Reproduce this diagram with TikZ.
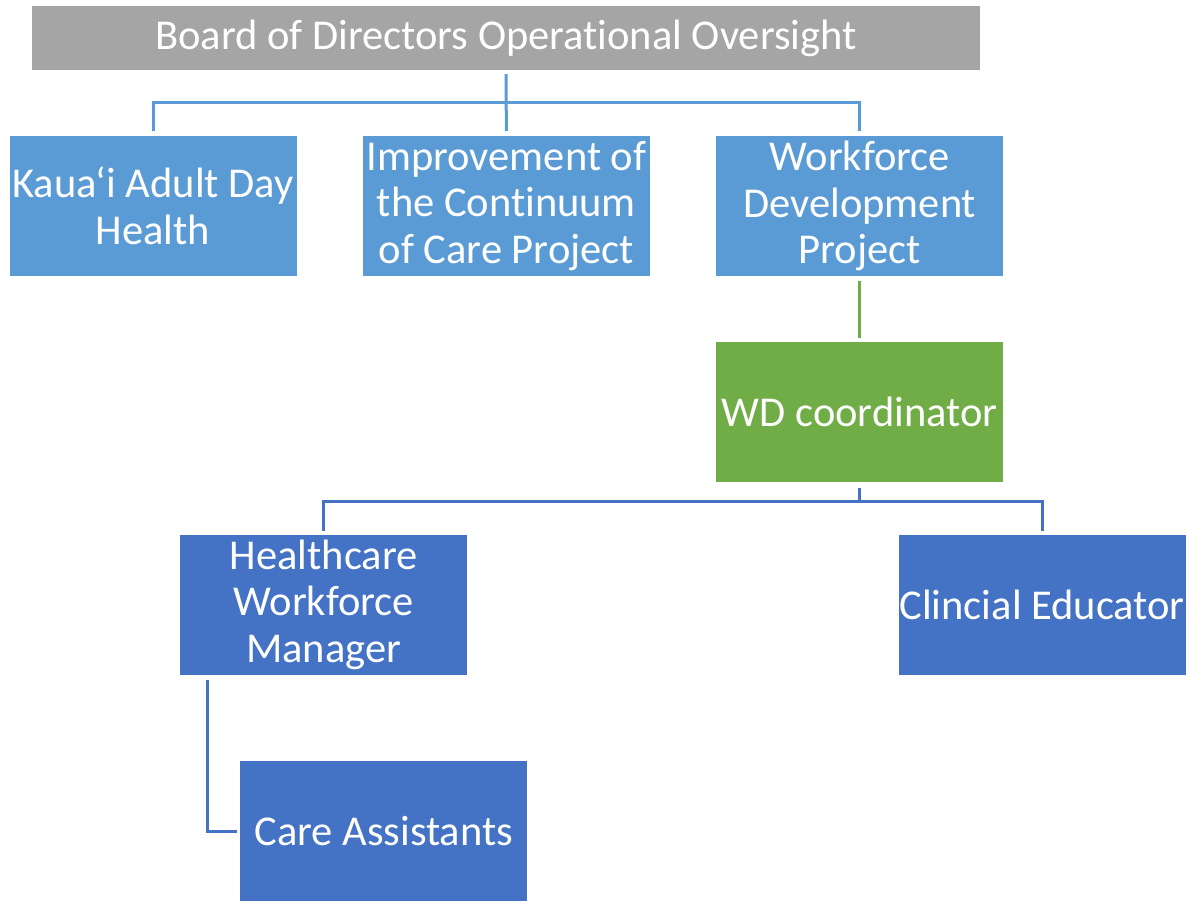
\documentclass[tikz,border=0pt]{standalone}
\usepackage{fontspec}
\setmainfont{Carlito}[Ligatures=NoCommon]
\usetikzlibrary{positioning,calc}
\definecolor{boardgray}{HTML}{A5A5A5}
\definecolor{projblue}{HTML}{5B9BD5}
\definecolor{coordgreen}{HTML}{70AD47}
\definecolor{staffblue}{HTML}{4472C4}
\begin{document}
\begin{tikzpicture}[x=1pt, y=1pt, node distance=66pt,
    box/.style={shape=rectangle, minimum width=287pt, minimum height=140pt, inner sep=0pt, align=center, text=white, font=\fontsize{42.5}{46.5}\selectfont},
    link/.style={line width=3pt}]
        \useasboundingbox (0,0) rectangle (1189,-901);

        % Node definitions
        \node (board) [box, fill=boardgray, minimum width=948pt, minimum height=64pt] at (506,-38) {Board of Directors Operational Oversight};

        \node (kauai) [box, fill=projblue] at (153,-206) {Kaua‘i Adult Day\\Health};

        \node (improve) [box, fill=projblue, right=of kauai] {Improvement of\\the Continuum\\of Care Project};

        \node (workforce) [box, fill=projblue, right=of improve] {Workforce\\Development\\Project};

        \node (wd) [box, fill=coordgreen, below=of workforce] {WD coordinator};

        \node (hwm) [box, fill=staffblue, below=52pt of wd, xshift=-536pt] {Healthcare\\Workforce\\Manager};

        \node (educator) [box, fill=staffblue, right=431pt of hwm] {Clincial Educator};

        \node (care) [box, fill=staffblue, below=86pt of hwm, xshift=60pt] {Care Assistants};

        \coordinate (topbus) at ($(board.south)!0.5!(improve.north)$);
        \coordinate (wdbus) at ([yshift=-19pt]wd.south);
        \coordinate (hwmdrop) at ([xshift=27pt]hwm.south west);

        % Connecting lines
        \draw[link, projblue, shorten <=4pt, shorten >=5pt] (board.south) -- (improve.north);
        \draw[link, projblue, shorten >=5pt] (topbus) -| (kauai.north);
        \draw[link, projblue, shorten >=5pt] (topbus) -| (workforce.north);
        \draw[link, coordgreen, shorten <=5pt, shorten >=4pt] (workforce.south) -- (wd.north);
        \draw[link, staffblue, shorten <=5pt] (wd.south) -- (wdbus);
        \draw[link, staffblue, shorten >=4pt] (wdbus) -| (hwm.north);
        \draw[link, staffblue, shorten >=4pt] (wdbus) -| (educator.north);
        \draw[link, staffblue, shorten <=5pt, shorten >=3pt] (hwmdrop) |- (care.west);
    \end{tikzpicture}
\end{document}
